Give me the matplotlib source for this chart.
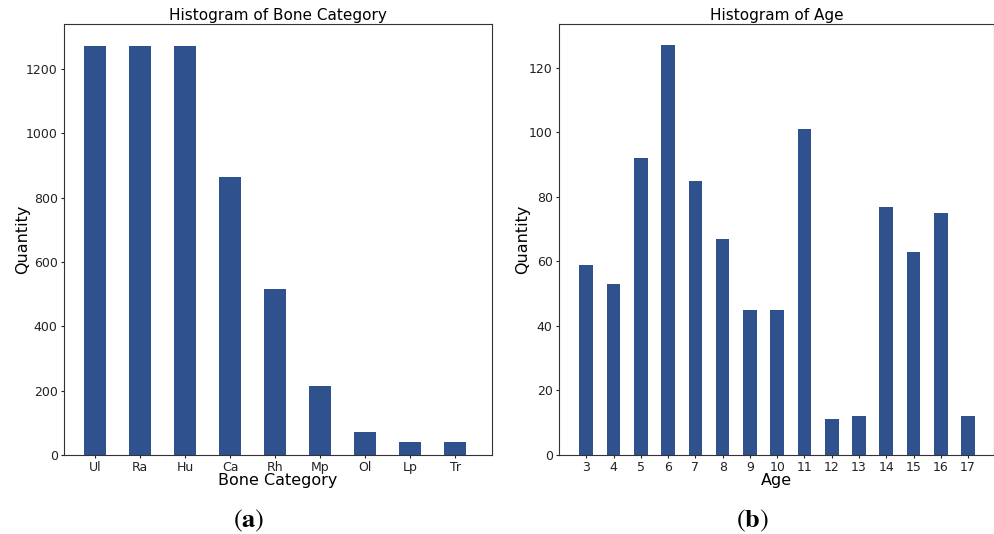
import matplotlib
matplotlib.use("Agg")
import matplotlib.pyplot as plt

# bone category counts
bones = ["Ul", "Ra", "Hu", "Ca", "Rh", "Mp", "Ol", "Lp", "Tr"]
bone_qty = [1273, 1273, 1273, 863, 516, 214, 71, 40, 40]

# age counts
ages = [3, 4, 5, 6, 7, 8, 9, 10, 11, 12, 13, 14, 15, 16, 17]
age_qty = [59, 53, 92, 127, 85, 67, 45, 45, 101, 11, 12, 77, 63, 75, 12]

bar_color = "#2f528f"
plt.rcParams["mathtext.fontset"] = "stix"

fig = plt.figure(figsize=(9.95, 5.34), dpi=100)
ax1 = fig.add_axes([0.0643, 0.148, 0.4302, 0.807])
ax2 = fig.add_axes([0.5618, 0.148, 0.4372, 0.807])

ax1.bar(range(len(bones)), bone_qty, width=0.5, color=bar_color)
ax1.set_xticks(range(len(bones)))
ax1.set_xticklabels(bones)
ax1.set_xlim(-0.69, 8.82)
ax1.set_ylim(0, 1340)
ax1.set_yticks([0, 200, 400, 600, 800, 1000, 1200])
ax1.set_title("Histogram of Bone Category", fontsize=11, pad=3)
ax1.set_xlabel("Bone Category", fontsize=11.5, labelpad=-1)
ax1.set_ylabel("Quantity", fontsize=11.5, labelpad=-3)

ax2.bar(ages, age_qty, width=0.5, color=bar_color)
ax2.set_xticks(ages)
ax2.set_xlim(2.0, 17.95)
ax2.set_ylim(0, 133.6)
ax2.set_yticks([0, 20, 40, 60, 80, 100, 120])
ax2.set_title("Histogram of Age", fontsize=11, pad=3)
ax2.set_xlabel("Age", fontsize=11.5, labelpad=-1)
ax2.set_ylabel("Quantity", fontsize=11.5, labelpad=-1)

for ax in (ax1, ax2):
    ax.tick_params(labelsize=9, length=2.5, pad=2, colors="#222222")
    for s in ax.spines.values():
        s.set_color("#333333")

fig.text(0.250, 0.012, r"$(\mathbf{a})$", ha="center", fontsize=19)
fig.text(0.756, 0.012, r"$(\mathbf{b})$", ha="center", fontsize=19)

fig.savefig("out.png", dpi=100)
